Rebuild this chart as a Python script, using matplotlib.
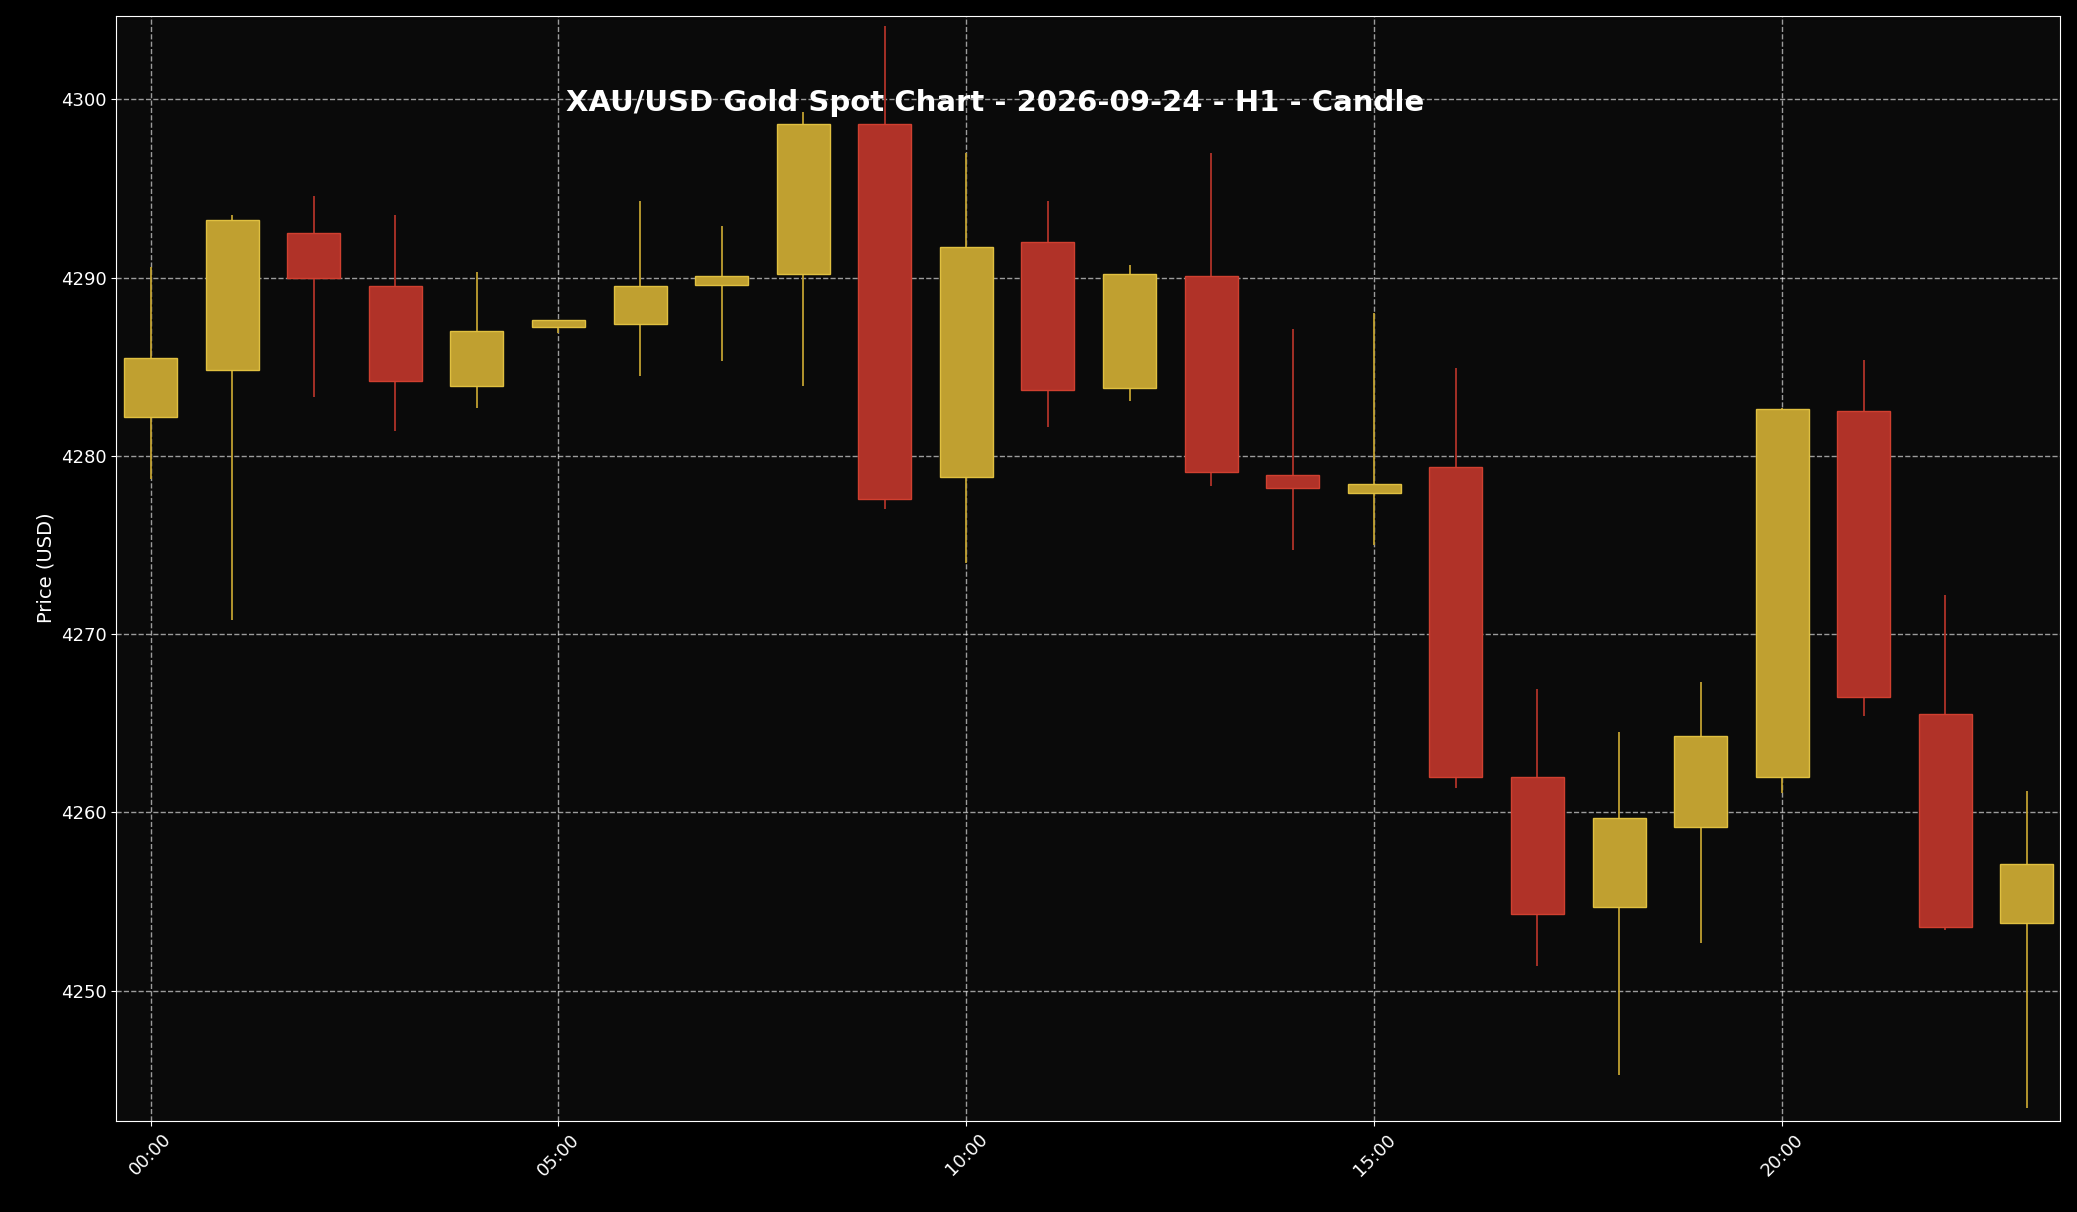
import matplotlib
matplotlib.use("Agg")
import matplotlib.pyplot as plt

hours = list(range(24))
opens  = [4282.2,4284.8,4292.5,4289.5,4283.9,4287.2,4287.4,4289.6,4290.2,4298.6,4278.8,4292.0,4283.8,4290.1,4278.9,4277.9,4279.4,4262.0,4254.7,4259.2,4262.0,4282.5,4265.5,4253.8]
closes = [4285.5,4293.2,4290.0,4284.2,4287.0,4287.6,4289.5,4290.1,4298.6,4277.6,4291.7,4283.7,4290.2,4279.1,4278.2,4278.4,4262.0,4254.3,4259.7,4264.3,4282.6,4266.5,4253.6,4257.1]
highs  = [4290.6,4293.5,4294.6,4293.5,4290.3,4287.6,4294.3,4292.9,4299.3,4304.1,4297.0,4294.3,4290.7,4297.0,4287.1,4288.0,4284.9,4266.9,4264.5,4267.3,4282.7,4285.4,4272.2,4261.2]
lows   = [4278.7,4270.8,4283.3,4281.4,4282.7,4286.9,4284.5,4285.3,4283.9,4277.0,4274.0,4281.6,4283.1,4278.3,4274.7,4275.0,4261.4,4251.4,4245.3,4252.7,4261.1,4265.4,4253.4,4243.4]
tick_pos = [0,5,10,15,20]
tick_labels = ["00:00","05:00","10:00","15:00","20:00"]

GOLD = "#c0a030"; RED = "#b03228"
fig = plt.figure(figsize=(20.77,12.12), dpi=100, facecolor="black")
ax = fig.add_axes([0.056,0.0754,0.936,0.9116])
ax.set_facecolor("#0a0a0a")
for h,o,c,hi,lo in zip(hours,opens,closes,highs,lows):
    col = GOLD if c>=o else RED
    edge = "#e0c040" if c>=o else "#d04030"
    ax.vlines(h, lo, hi, color=col, linewidth=1.3, zorder=2)
    ax.bar(h, abs(c-o), bottom=min(o,c), width=0.65, color=col, edgecolor=edge, linewidth=1, zorder=3)
ax.set_xlim(-0.42,23.41)
ax.set_ylim(4242.72,4304.68)
ax.set_xticks(tick_pos)
ax.set_xticklabels(tick_labels, rotation=45, color="white", fontsize=13)
ax.tick_params(colors="white", labelsize=13)
ax.grid(True, linestyle="--", color="white", alpha=0.6, linewidth=1)
ax.set_axisbelow(True)
for s in ax.spines.values():
    s.set_color("white")
ax.set_ylabel("Price (USD)", color="white", fontsize=14)
fig.text(0.479, 0.915, "XAU/USD Gold Spot Chart - 2026-09-24 - H1 - Candle", color="white",
         fontsize=21, fontweight="bold", ha="center", va="center")
fig.savefig("out.png", dpi=100, facecolor="black")
